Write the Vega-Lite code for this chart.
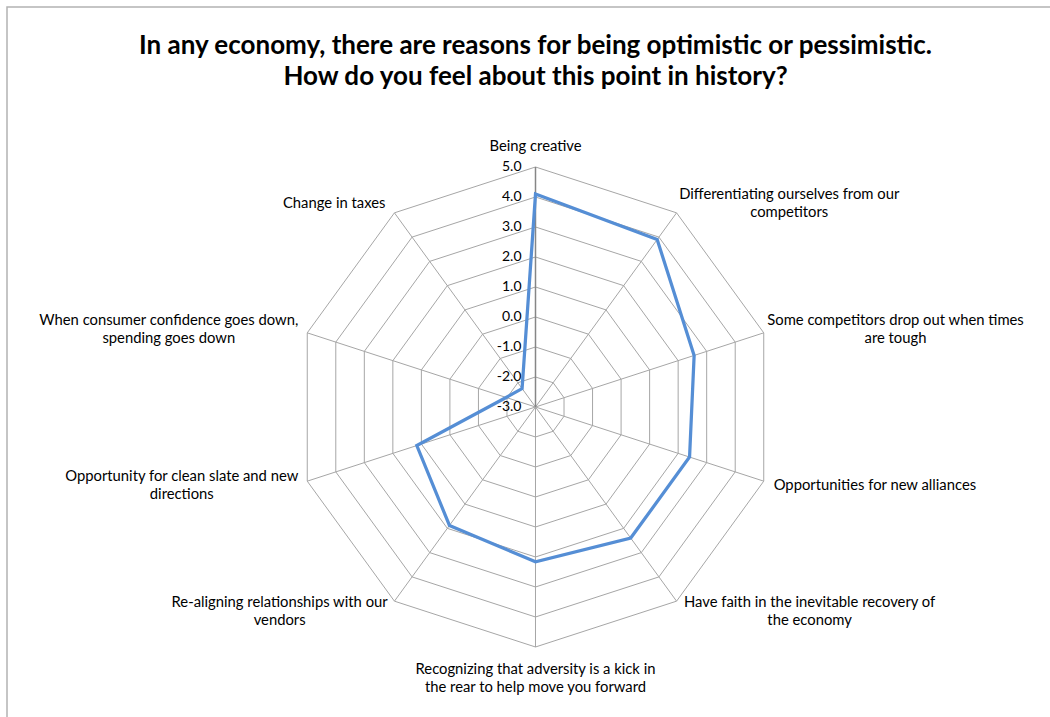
{
  "$schema": "https://vega.github.io/schema/vega-lite/v6.json",
  "width": 1045,
  "height": 712,
  "autosize": "none",
  "padding": {"left": 7, "top": 7, "right": 0, "bottom": 0},
  "background": "white",
  "view": {"stroke": "#b3b3b3", "strokeWidth": 1.5},
  "title": {
    "text": ["In any economy, there are reasons for being optimistic or pessimistic.", "How do you feel about this point in history?"],
    "font": "Lato", "fontSize": 26, "fontWeight": "bold", "color": "#000000",
    "anchor": "middle", "offset": -83, "lineHeight": 31, "dx": 6
  },
  "data": {
    "values": [
      {"cat": "Being creative", "value": 4.1},
      {"cat": "Differentiating ourselves from our\ncompetitors", "value": 3.9},
      {"cat": "Some competitors drop out when times\nare tough", "value": 2.56},
      {"cat": "Opportunities for new alliances", "value": 2.4},
      {"cat": "Have faith in the inevitable recovery of\nthe economy", "value": 2.4},
      {"cat": "Recognizing that adversity is a kick in\nthe rear to help move you forward", "value": 2.16},
      {"cat": "Re-aligning relationships with our\nvendors", "value": 1.88},
      {"cat": "Opportunity for clean slate and new\ndirections", "value": 1.16},
      {"cat": "When consumer confidence goes down,\nspending goes down", "value": -1.97},
      {"cat": "Change in taxes", "value": -2.24}
    ]
  },
  "transform": [
    {"window": [{"op": "row_number", "as": "idx"}]},
    {"calculate": "(datum.idx - 1) * 2 * PI / 10", "as": "ang"}
  ],
  "layer": [
    {
      "transform": [
        {"calculate": "[-2,-1,0,1,2,3,4,5]", "as": "lv"},
        {"flatten": ["lv"]},
        {"calculate": "(datum.lv + 3) * sin(datum.ang)", "as": "px"},
        {"calculate": "(datum.lv + 3) * cos(datum.ang)", "as": "py"}
      ],
      "mark": {"type": "line", "interpolate": "linear-closed", "stroke": "#a6a6a6", "strokeWidth": 1},
      "encoding": {
        "x": {"field": "px", "type": "quantitative", "scale": {"domain": [-17.617, 17.217], "nice": false, "zero": false}, "axis": null},
        "y": {"field": "py", "type": "quantitative", "scale": {"domain": [-10.4, 13.333], "nice": false, "zero": false}, "axis": null},
        "detail": {"field": "lv", "type": "quantitative"},
        "order": {"field": "idx", "type": "quantitative"}
      }
    },
    {
      "transform": [
        {"filter": "datum.idx != 1"},
        {"calculate": "8 * sin(datum.ang)", "as": "px"},
        {"calculate": "8 * cos(datum.ang)", "as": "py"},
        {"calculate": "0", "as": "c0"}
      ],
      "mark": {"type": "rule", "stroke": "#a6a6a6", "strokeWidth": 1},
      "encoding": {
        "x": {"field": "c0", "type": "quantitative", "scale": {"domain": [-17.617, 17.217], "nice": false, "zero": false}, "axis": null},
        "y": {"field": "c0", "type": "quantitative", "scale": {"domain": [-10.4, 13.333], "nice": false, "zero": false}, "axis": null},
        "x2": {"field": "px"},
        "y2": {"field": "py"}
      }
    },
    {
      "transform": [
        {"filter": "datum.idx == 1"},
        {"calculate": "8 * sin(datum.ang)", "as": "px"},
        {"calculate": "8 * cos(datum.ang)", "as": "py"},
        {"calculate": "0", "as": "c0"}
      ],
      "mark": {"type": "rule", "stroke": "#868686", "strokeWidth": 1.5},
      "encoding": {
        "x": {"field": "c0", "type": "quantitative", "scale": {"domain": [-17.617, 17.217], "nice": false, "zero": false}, "axis": null},
        "y": {"field": "c0", "type": "quantitative", "scale": {"domain": [-10.4, 13.333], "nice": false, "zero": false}, "axis": null},
        "x2": {"field": "px"},
        "y2": {"field": "py"}
      }
    },
    {
      "transform": [
        {"calculate": "(datum.value + 3) * sin(datum.ang)", "as": "px"},
        {"calculate": "(datum.value + 3) * cos(datum.ang)", "as": "py"}
      ],
      "mark": {"type": "line", "interpolate": "linear-closed", "stroke": "#558ed5", "strokeWidth": 3.25},
      "encoding": {
        "x": {"field": "px", "type": "quantitative", "scale": {"domain": [-17.617, 17.217], "nice": false, "zero": false}, "axis": null},
        "y": {"field": "py", "type": "quantitative", "scale": {"domain": [-10.4, 13.333], "nice": false, "zero": false}, "axis": null},
        "order": {"field": "idx", "type": "quantitative"}
      }
    },
    {
      "transform": [
        {"filter": "datum.idx == 1"},
        {"calculate": "[-3,-2,-1,0,1,2,3,4,5]", "as": "lv"},
        {"flatten": ["lv"]},
        {"calculate": "0", "as": "px"},
        {"calculate": "datum.lv + 3", "as": "py"},
        {"calculate": "(datum.lv < 0 ? '-' : '') + format(abs(datum.lv), '.1f')", "as": "lab"}
      ],
      "mark": {"type": "text", "align": "right", "baseline": "middle", "dx": -14, "font": "Lato", "fontSize": 14, "color": "#000000"},
      "encoding": {
        "x": {"field": "px", "type": "quantitative", "scale": {"domain": [-17.617, 17.217], "nice": false, "zero": false}, "axis": null},
        "y": {"field": "py", "type": "quantitative", "scale": {"domain": [-10.4, 13.333], "nice": false, "zero": false}, "axis": null},
        "text": {"field": "lab"}
      }
    },
    {
      "transform": [
        {"calculate": "sin(datum.ang)", "as": "s"},
        {"calculate": "cos(datum.ang)", "as": "c"},
        {"calculate": "split(datum.cat, '\\n')", "as": "parts"},
        {"calculate": "length(datum.parts)", "as": "nl"},
        {"calculate": "datum.parts[0]", "as": "l1"},
        {"calculate": "datum.nl > 1 ? datum.parts[1] : ''", "as": "l2"},
        {"calculate": "8.25 * length(datum.l1) - 4.33 * (length(datum.l1) - length(replace(datum.l1, regexp('[iltfjr ,.-]', 'g'), '')))", "as": "w1"},
        {"calculate": "8.25 * length(datum.l2) - 4.33 * (length(datum.l2) - length(replace(datum.l2, regexp('[iltfjr ,.-]', 'g'), '')))", "as": "w2"},
        {"calculate": "max(datum.w1, datum.w2)", "as": "w"},
        {"calculate": "abs(datum.s) < 0.1 ? 0 : (datum.s > 0 ? 1 : -1)", "as": "side"},
        {"calculate": "8 * datum.s + datum.side * (12 * abs(datum.s) + datum.w / 2) / 30", "as": "px"},
        {"calculate": "(datum.side == 0 ? 8 * datum.c + datum.c * ((datum.c > 0 ? 11 : 14) + datum.nl * 9) / 30 : 8 * datum.c + (12 * datum.c - 1) / 30) + (datum.nl - 1) * 9.25 / 30", "as": "py"}
      ],
      "mark": {"type": "text", "align": "center", "baseline": "middle", "lineBreak": "\n", "lineHeight": 18.5, "font": "Lato", "fontSize": 14.8, "color": "#000000"},
      "encoding": {
        "x": {"field": "px", "type": "quantitative", "scale": {"domain": [-17.617, 17.217], "nice": false, "zero": false}, "axis": null},
        "y": {"field": "py", "type": "quantitative", "scale": {"domain": [-10.4, 13.333], "nice": false, "zero": false}, "axis": null},
        "text": {"field": "cat"}
      }
    }
  ]
}
